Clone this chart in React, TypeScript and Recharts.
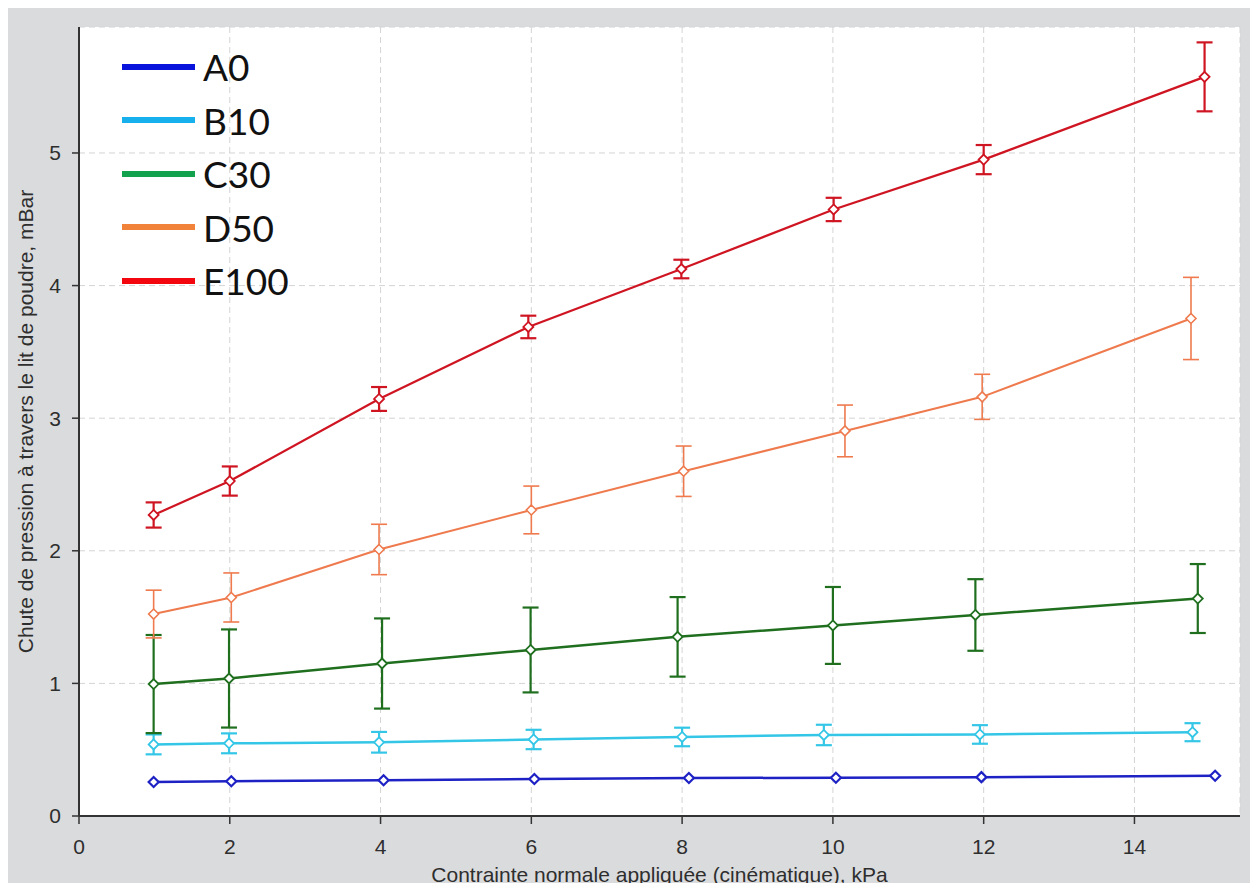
import React from 'react';
import { ScatterChart, Scatter, XAxis, YAxis, CartesianGrid, ErrorBar, Legend } from 'recharts';

// series labels + colours (legend colours are brighter than the plotted lines)
const seriesNames = ['A0', 'B10', 'C30', 'D50', 'E100'];
const lineColors = ['#1e22c4', '#34c6e6', '#1f6f1f', '#ee7a4e', '#cf1422'];
const legendColors = ['#0814dc', '#18b0ec', '#12a24e', '#f0823a', '#f4060e'];

const xTicks = [0, 2, 4, 6, 8, 10, 12, 14];
const yTicks = [0, 1, 2, 3, 4, 5];

// contrainte normale (kPa)
const xA0 = [0.99, 2.02, 4.04, 6.04, 8.09, 10.04, 11.97, 15.07];
const xB10 = [0.99, 1.99, 3.98, 6.03, 8.0, 9.88, 11.95, 14.77];
const xC30 = [0.99, 1.99, 4.02, 5.99, 7.94, 10.0, 11.89, 14.84];
const xD50 = [0.99, 2.02, 3.98, 6.0, 8.02, 10.16, 11.98, 14.75];
const xE100 = [0.99, 2.0, 3.98, 5.96, 7.99, 10.01, 12.0, 14.93];

// chute de pression (mBar)
const yA0 = [0.256, 0.262, 0.27, 0.279, 0.287, 0.288, 0.293, 0.304];
const yB10 = [0.54, 0.548, 0.556, 0.577, 0.596, 0.611, 0.615, 0.632];
const yC30 = [0.995, 1.037, 1.15, 1.252, 1.351, 1.437, 1.516, 1.64];
const yD50 = [1.523, 1.648, 2.01, 2.308, 2.6, 2.904, 3.161, 3.752];
const yE100 = [2.27, 2.526, 3.145, 3.688, 4.125, 4.574, 4.95, 5.574];

// error bars (+/-)
const eB10 = [0.075, 0.075, 0.078, 0.073, 0.07, 0.077, 0.07, 0.068];
const eC30 = [0.37, 0.37, 0.34, 0.32, 0.3, 0.29, 0.27, 0.26];
const eD50 = [0.18, 0.185, 0.19, 0.18, 0.19, 0.195, 0.17, 0.31];
const eE100 = [0.095, 0.11, 0.09, 0.085, 0.07, 0.088, 0.11, 0.26];

const toPoints = (xs: number[], ys: number[], errs?: number[]) =>
  xs.map((x, i) => ({ x, y: ys[i], err: errs ? errs[i] : 0 }));

const dataA0 = toPoints(xA0, yA0);
const dataB10 = toPoints(xB10, yB10, eB10);
const dataC30 = toPoints(xC30, yC30, eC30);
const dataD50 = toPoints(xD50, yD50, eD50);
const dataE100 = toPoints(xE100, yE100, eE100);

const FONT = '"Liberation Sans", Arial, sans-serif';
const AXIS = '#333';
const TXT = '#2e2e2e';

// open diamond marker
const diamond = (color: string, sw: number) => (props: any) => {
  const { cx, cy } = props;
  const r = 5;
  return (
    <path
      d={`M${cx},${cy - r}L${cx + r},${cy}L${cx},${cy + r}L${cx - r},${cy}Z`}
      fill="#fff"
      stroke={color}
      strokeWidth={sw}
    />
  );
};

const LegendBox = () => (
  <div style={{ fontFamily: 'Lato, "Open Sans", sans-serif', fontSize: 37, color: '#111' }}>
    {seriesNames.map((n, i) => (
      <div key={n} style={{ display: 'flex', alignItems: 'center', height: 53.5 }}>
        <span
          style={{ display: 'inline-block', width: 73, height: 6, background: legendColors[i], marginRight: 8 }}
        />
        <span style={{ lineHeight: 1 }}>{n}</span>
      </div>
    ))}
  </div>
);

const App: React.FC = () => {
  return (
    <div style={{ width: 1250, height: 883, marginBottom: -8, background: '#dadbdd' }}>
      <ScatterChart width={1250} height={883} margin={{ top: 19, right: 18, left: 8, bottom: 4 }}>
        <CartesianGrid stroke="#d4d4d4" strokeDasharray="6 4" fill="#fff" />
        <XAxis
          type="number"
          dataKey="x"
          domain={[0, 15.4]}
          ticks={xTicks}
          height={71}
          tickSize={8}
          tickMargin={15}
          axisLine={{ stroke: AXIS, strokeWidth: 2 }}
          tickLine={{ stroke: AXIS, strokeWidth: 1.5 }}
          tick={{ fill: TXT, fontSize: 21, fontFamily: FONT }}
          label={{
            value: 'Contrainte normale appliquée (cinématique), kPa',
            position: 'insideBottom',
            offset: 5,
            fill: TXT,
            fontSize: 21,
            fontFamily: FONT,
          }}
        />
        <YAxis
          type="number"
          dataKey="y"
          domain={[0, 5.95]}
          ticks={yTicks}
          width={63}
          tickSize={7}
          tickMargin={11}
          axisLine={{ stroke: AXIS, strokeWidth: 2 }}
          tickLine={{ stroke: AXIS, strokeWidth: 1.5 }}
          tick={{ fill: TXT, fontSize: 21, fontFamily: FONT }}
          label={{
            value: 'Chute de pression à travers le lit de poudre, mBar',
            angle: -90,
            position: 'insideLeft',
            offset: 10,
            fill: TXT,
            fontSize: 21,
            fontFamily: FONT,
            style: { textAnchor: 'middle' },
          }}
        />
        <Legend
          content={<LegendBox />}
          layout="vertical"
          align="center"
          verticalAlign="middle"
          wrapperStyle={{ left: 114, top: 32, width: 'auto' }}
        />
        <Scatter
          name="A0"
          data={dataA0}
          fill={lineColors[0]}
          line={{ stroke: lineColors[0], strokeWidth: 2.5 }}
          lineType="joint"
          shape={diamond(lineColors[0], 2.2)}
          isAnimationActive={false}
        />
        <Scatter
          name="B10"
          data={dataB10}
          fill={lineColors[1]}
          line={{ stroke: lineColors[1], strokeWidth: 2.5 }}
          lineType="joint"
          shape={diamond(lineColors[1], 1.8)}
          isAnimationActive={false}
        >
          <ErrorBar dataKey="err" direction="y" width={8} stroke={lineColors[1]} strokeWidth={2.2} />
        </Scatter>
        <Scatter
          name="C30"
          data={dataC30}
          fill={lineColors[2]}
          line={{ stroke: lineColors[2], strokeWidth: 2.5 }}
          lineType="joint"
          shape={diamond(lineColors[2], 1.8)}
          isAnimationActive={false}
        >
          <ErrorBar dataKey="err" direction="y" width={8} stroke={lineColors[2]} strokeWidth={2.2} />
        </Scatter>
        <Scatter
          name="D50"
          data={dataD50}
          fill={lineColors[3]}
          line={{ stroke: lineColors[3], strokeWidth: 2 }}
          lineType="joint"
          shape={diamond(lineColors[3], 1.6)}
          isAnimationActive={false}
        >
          <ErrorBar dataKey="err" direction="y" width={8} stroke={lineColors[3]} strokeWidth={1.6} />
        </Scatter>
        <Scatter
          name="E100"
          data={dataE100}
          fill={lineColors[4]}
          line={{ stroke: lineColors[4], strokeWidth: 2.2 }}
          lineType="joint"
          shape={diamond(lineColors[4], 1.8)}
          isAnimationActive={false}
        >
          <ErrorBar dataKey="err" direction="y" width={8} stroke={lineColors[4]} strokeWidth={2.2} />
        </Scatter>
      </ScatterChart>
    </div>
  );
};

export default App;
